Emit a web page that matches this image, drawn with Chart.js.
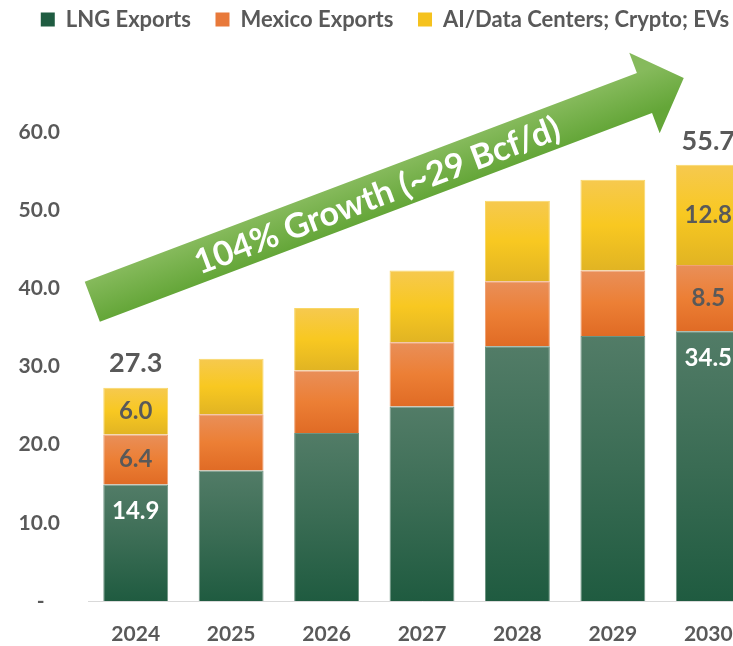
<!DOCTYPE html>
<html>
<head>
<meta charset="utf-8">
<script src="https://cdn.jsdelivr.net/npm/chart.js@4.4.1/dist/chart.umd.min.js"></script>
<style>
  html, body { margin: 0; padding: 0; background: #fff; overflow: hidden; }
  #wrap { width: 760px; height: 646px; }
</style>
</head>
<body>
<div id="wrap"><canvas id="gasChart" width="760" height="646"></canvas></div>
<script>
// Demand growth, Bcf/d, stacked by driver
const years = ['2024', '2025', '2026', '2027', '2028', '2029', '2030'];
const lngExports = [14.9, 16.7, 21.5, 24.9, 32.6, 33.9, 34.5];
const mexicoExports = [6.4, 7.2, 8.0, 8.2, 8.3, 8.4, 8.5];
const aiDataCenters = [6.0, 7.1, 8.0, 9.2, 10.3, 11.6, 12.8];
const stackTotals = [27.3, null, null, null, null, null, 55.7];
const labelledYears = ['2024', '2030'];
const yTicks = [0, 10, 20, 30, 40, 50, 60];
const seriesNames = ['LNG Exports', 'Mexico Exports', 'AI/Data Centers; Crypto; EVs'];
const arrowText = '104% Growth (~29 Bcf/d)';
// arrow ends in (category index, value) space
const arrowFrom = [-0.455, 38.3];
const arrowTo = [5.743, 66.9];

const GREY = '#595959';
const FONT = 'Lato';
const legendColors = ['#1f5c41', '#e8793a', '#f5c21e'];
const fills = [
  ['#527c67', '#3a6c54', '#1f5b40'],
  ['#e98f59', '#ec7f35', '#e06b25'],
  ['#f6c94f', '#f8c821', '#e1b423'],
];
const edges = ['#6e9482', '#f0a274', '#f9d766'];

// vertical gradient spanning just this one stacked segment
function segmentFill(d) {
  return (c) => {
    const chart = c.chart;
    const y = chart.scales.y;
    const i = c.dataIndex;
    if (!y || i === undefined || !chart.chartArea) return fills[d][1];
    let base = 0;
    for (let k = 0; k < d; k++) base += chart.data.datasets[k].data[i];
    const top = base + chart.data.datasets[d].data[i];
    const g = chart.ctx.createLinearGradient(0, y.getPixelForValue(top), 0, y.getPixelForValue(base));
    g.addColorStop(0, fills[d][0]);
    g.addColorStop(0.5, fills[d][1]);
    g.addColorStop(1, fills[d][2]);
    return g;
  };
}

const barLabels = {
  id: 'barLabels',
  afterDatasetsDraw(chart) {
    const ctx = chart.ctx;
    ctx.save();
    ctx.textAlign = 'center';
    ctx.textBaseline = 'middle';
    labelledYears.forEach((year) => {
      const i = years.indexOf(year);
      chart.data.datasets.forEach((ds, d) => {
        const el = chart.getDatasetMeta(d).data[i];
        const ty = d === 0 ? el.y + 27 : (el.y + el.base) / 2;
        ctx.fillStyle = d === 0 ? '#ffffff' : GREY;
        ctx.font = `bold 24px ${FONT}`;
        ctx.fillText(ds.data[i].toFixed(1), el.x, ty);
      });
      const topEl = chart.getDatasetMeta(2).data[i];
      ctx.fillStyle = GREY;
      ctx.font = `bold 27px ${FONT}`;
      ctx.fillText(stackTotals[i].toFixed(1), topEl.x, topEl.y - 24);
    });
    ctx.restore();
  }
};

const growthArrow = {
  id: 'growthArrow',
  afterDraw(chart) {
    const { ctx, scales: { x, y } } = chart;
    const x0 = x.getPixelForValue(arrowFrom[0]), y0 = y.getPixelForValue(arrowFrom[1]);
    const x1 = x.getPixelForValue(arrowTo[0]), y1 = y.getPixelForValue(arrowTo[1]);
    const len = Math.hypot(x1 - x0, y1 - y0);
    const shaft = 21.4, head = 43, headLen = 42;
    ctx.save();
    ctx.translate(x0, y0);
    ctx.rotate(Math.atan2(y1 - y0, x1 - x0));
    const g = ctx.createLinearGradient(0, -shaft, 0, shaft);
    g.addColorStop(0, '#86ba5c');
    g.addColorStop(1, '#64a638');
    ctx.fillStyle = g;
    ctx.beginPath();
    ctx.moveTo(0, -shaft);
    ctx.lineTo(len - headLen, -shaft);
    ctx.lineTo(len - headLen, -head);
    ctx.lineTo(len, 0);
    ctx.lineTo(len - headLen, head);
    ctx.lineTo(len - headLen, shaft);
    ctx.lineTo(0, shaft);
    ctx.closePath();
    ctx.fill();
    ctx.fillStyle = '#ffffff';
    ctx.font = `bold 34px ${FONT}`;
    ctx.textAlign = 'center';
    ctx.textBaseline = 'middle';
    ctx.fillText(arrowText, 304, 2);
    ctx.restore();
  }
};

const tickFont = { family: FONT, weight: 'bold', size: 21 };

new Chart(document.getElementById('gasChart').getContext('2d'), {
  type: 'bar',
  data: {
    labels: years,
    datasets: [lngExports, mexicoExports, aiDataCenters].map((vals, d) => ({
      label: seriesNames[d],
      data: vals,
      backgroundColor: segmentFill(d),
      borderColor: edges[d],
      borderWidth: 1,
      categoryPercentage: 1,
      barPercentage: 0.68,
    })),
  },
  options: {
    responsive: false,
    animation: false,
    layout: { padding: { top: -10, right: 4, bottom: 0, left: 14 } },
    plugins: {
      tooltip: { enabled: false },
      legend: {
        position: 'top',
        labels: {
          color: GREY,
          font: { family: FONT, weight: 'bold', size: 22 },
          boxWidth: 14,
          boxHeight: 14,
          padding: 14,
          generateLabels: (chart) => chart.data.datasets.map((ds, i, all) => ({
            text: i < all.length - 1 ? ds.label + '  ' : ds.label,
            fillStyle: legendColors[i],
            strokeStyle: legendColors[i],
            lineWidth: 0,
            hidden: false,
            datasetIndex: i,
            fontColor: GREY,
          })),
        },
      },
    },
    scales: {
      x: {
        stacked: true,
        grid: { display: false, drawTicks: false },
        border: { display: true, color: '#d9d9d9', width: 1 },
        ticks: { color: GREY, font: tickFont, padding: 21 },
        afterFit: (s) => { s.height = 45; },
      },
      y: {
        stacked: true,
        min: 0,
        max: 71.7,
        afterBuildTicks: (s) => { s.ticks = yTicks.map((v) => ({ value: v })); },
        grid: { display: false, drawTicks: false },
        border: { display: false },
        ticks: {
          color: GREY,
          font: tickFont,
          padding: 28,
          callback: (v) => (v === 0 ? '-   ' : Number(v).toFixed(1)),
        },
        afterFit: (s) => { s.width = 74; },
      },
    },
  },
  plugins: [barLabels, growthArrow],
});
</script>
</body>
</html>
